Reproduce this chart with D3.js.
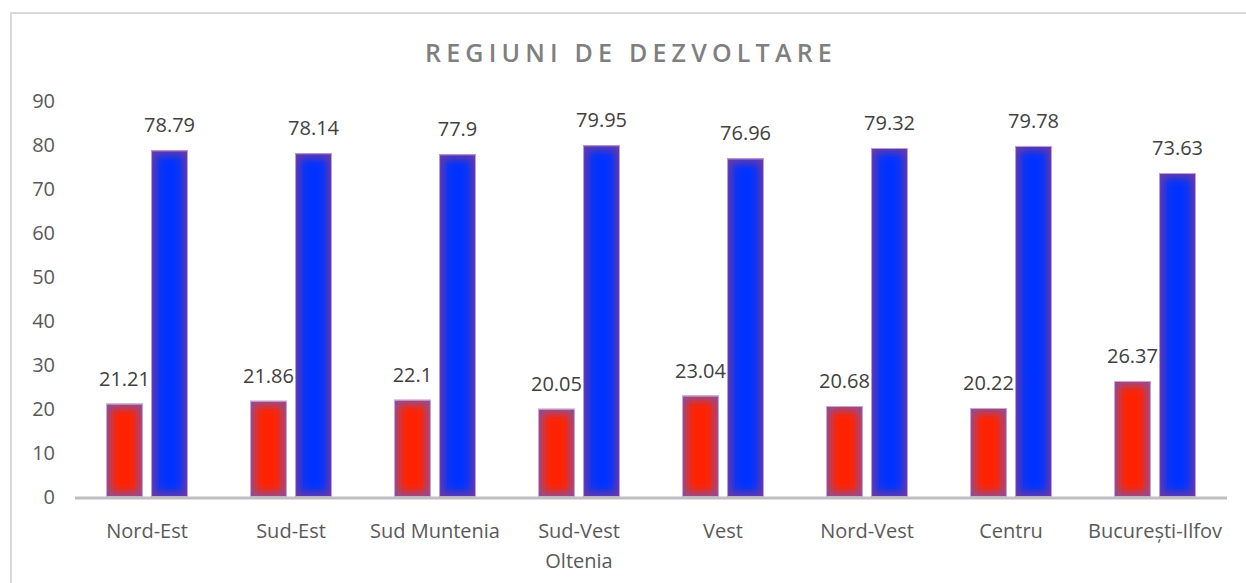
<!DOCTYPE html>
<html>
<head>
<meta charset="utf-8">
<script src="https://cdn.jsdelivr.net/npm/d3@7"></script>
<style>
  body { margin: 0; background: #fff; }
  text { font-family: "Open Sans", sans-serif; }
</style>
</head>
<body>
<div class="chart"></div>
<script>
// data
var regions = ["Nord-Est", "Sud-Est", "Sud Muntenia", "Sud-Vest Oltenia", "Vest", "Nord-Vest", "Centru", "București-Ilfov"];
var redValues = [21.21, 21.86, 22.1, 20.05, 23.04, 20.68, 20.22, 26.37];
var blueValues = [78.79, 78.14, 77.9, 79.95, 76.96, 79.32, 79.78, 73.63];
var yTicks = [0, 10, 20, 30, 40, 50, 60, 70, 80, 90];
var title = "REGIUNI DE DEZVOLTARE";

var width = 1246, height = 583;

var svg = d3.select(".chart").append("svg")
    .attr("width", width)
    .attr("height", height);

// outer frame (runs past the right and bottom edge)
svg.append("rect")
    .attr("x", 11).attr("y", 13)
    .attr("width", 1400).attr("height", 800)
    .attr("fill", "#fff")
    .attr("stroke", "#d9d9d9")
    .attr("stroke-width", 2);

var defs = svg.append("defs");
defs.append("filter")
    .attr("id", "soft")
    .attr("x", "-50%").attr("y", "-50%").attr("width", "200%").attr("height", "200%")
  .append("feGaussianBlur")
    .attr("stdDeviation", 4.2);

var x0 = d3.scaleBand()
    .domain(regions)
    .range([75, 1227]);

var x1 = d3.scaleBand()
    .domain(["red", "blue"])
    .range([31, 113])
    .paddingInner(0.18);

var y = d3.scaleLinear()
    .domain([0, 90])
    .range([497, 101]);

// title
svg.append("text")
    .attr("x", 631)
    .attr("y", 62)
    .attr("text-anchor", "middle")
    .attr("fill", "#7f7f7f")
    .style("font-size", "25px")
    .style("font-weight", 600)
    .style("letter-spacing", "5.2px")
    .text(title);

// y axis labels
svg.append("g").selectAll("text")
    .data(yTicks)
    .enter().append("text")
    .attr("x", 55)
    .attr("y", function(d) { return y(d); })
    .attr("dy", "0.35em")
    .attr("text-anchor", "end")
    .attr("fill", "#595959")
    .style("font-size", "20px")
    .text(function(d) { return d; });

var series = [
  {key: "red", values: redValues, center: "#ff2200", edge: "#8f4f96", rim: "#c9a9d6"},
  {key: "blue", values: blueValues, center: "#0433ff", edge: "#6a3aa6", rim: "#c0a0d6"}
];

var clipId = 0;
series.forEach(function(s) {
  regions.forEach(function(r, i) {
    var v = s.values[i];
    var bx = x0(r) + x1(s.key);
    var bw = x1.bandwidth();
    var by = y(v);
    var bh = y(0) - y(v);
    var id = "clip" + (clipId++);
    defs.append("clipPath").attr("id", id)
      .append("rect")
        .attr("x", bx).attr("y", by).attr("width", bw).attr("height", bh);
    var g = svg.append("g").attr("class", "bar " + s.key);
    g.append("rect")
        .attr("x", bx).attr("y", by).attr("width", bw).attr("height", bh)
        .attr("fill", s.edge);
    g.append("rect")
        .attr("clip-path", "url(#" + id + ")")
        .attr("x", bx + 5).attr("y", by + 5)
        .attr("width", bw - 10).attr("height", Math.max(0, bh - 10))
        .attr("fill", s.center)
        .attr("filter", "url(#soft)");
    g.append("rect")
        .attr("x", bx + 0.5).attr("y", by + 0.5)
        .attr("width", bw - 1).attr("height", bh - 1)
        .attr("fill", "none")
        .attr("stroke", s.rim)
        .attr("stroke-width", 1);
  });
});

// x axis line
svg.append("line")
    .attr("x1", 75).attr("x2", 1227)
    .attr("y1", y(0) + 1).attr("y2", y(0) + 1)
    .attr("stroke", "#bfbfbf")
    .attr("stroke-width", 3);

// value labels
series.forEach(function(s) {
  svg.append("g").selectAll("text")
      .data(s.values)
      .enter().append("text")
      .attr("x", function(d, i) { return x0(regions[i]) + x1(s.key) + x1.bandwidth() / 2; })
      .attr("y", function(d) { return y(d) - 18; })
      .attr("text-anchor", "middle")
      .attr("fill", "#404040")
      .style("font-size", "20px")
      .text(function(d) { return d; });
});

// category labels, wrapped when wider than the band
var cat = svg.append("g").selectAll("text")
    .data(regions)
    .enter().append("text")
    .attr("x", function(d) { return x0(d) + x0.bandwidth() / 2; })
    .attr("y", 538)
    .attr("text-anchor", "middle")
    .attr("fill", "#595959")
    .style("font-size", "20px");

cat.each(function(d) {
  var el = d3.select(this);
  var words = d.split(" ");
  var line = [];
  var lines = [];
  var probe = el.append("tspan");
  words.forEach(function(w) {
    line.push(w);
    probe.text(line.join(" "));
    if (probe.node().getComputedTextLength() > 140 && line.length > 1) {
      line.pop();
      lines.push(line.join(" "));
      line = [w];
    }
  });
  lines.push(line.join(" "));
  probe.remove();
  lines.forEach(function(l, k) {
    el.append("tspan")
      .attr("x", el.attr("x"))
      .attr("dy", k === 0 ? 0 : 29.7)
      .text(l);
  });
});
</script>
</body>
</html>
